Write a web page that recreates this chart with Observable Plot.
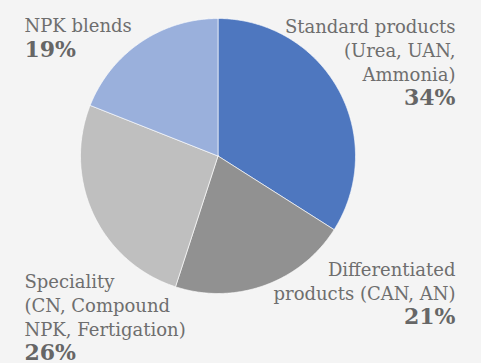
<!DOCTYPE html>
<html><head><meta charset="utf-8">
<script src="https://cdn.jsdelivr.net/npm/d3@7"></script>
<script src="https://cdn.jsdelivr.net/npm/@observablehq/plot@0.6"></script>
<style>
html,body{margin:0;padding:0;background:#f4f4f4;}
#chart svg{display:block;}
</style>
</head><body><div id="chart"></div>
<script>
// Data
const categories = ["Standard products", "Differentiated products", "Speciality", "NPK blends"];
const shares = [34, 21, 26, 19];
const nameLabels = [
  "Standard products\n(Urea, UAN,\nAmmonia)",
  "Differentiated\nproducts (CAN, AN)",
  "Speciality\n(CN, Compound\nNPK, Fertigation)",
  "NPK blends"
];
const sliceColors = ["#4e77bf", "#919191", "#bfbfbf", "#9ab0dc"];

// Layout (pixels)
const W = 481, H = 363, CX = 217.5, CY = 155.5, R = 137.5;
const anchors = ["top-right", "top-right", "top-left", "top-left"];
const nameDy = [15.2, 258.2, 270.2, 14.5];
const pctDy = [88.4, 307.4, 343.4, 40.4];

// Build slice polygons from shares (unit circle, clockwise from top)
const total = d3.sum(shares);
const pts = [];
let acc = 0;
categories.forEach((c, i) => {
  const a0 = acc / total * 2 * Math.PI;
  acc += shares[i];
  const a1 = acc / total * 2 * Math.PI;
  pts.push({slice: c, x: 0, y: 0});
  const n = Math.max(2, Math.ceil((a1 - a0) / (Math.PI / 360)));
  for (let k = 0; k <= n; k++) {
    const a = a0 + (a1 - a0) * k / n;
    pts.push({slice: c, x: Math.sin(a), y: Math.cos(a)});
  }
  pts.push({slice: c, x: 0, y: 0});
});

const textMarks = [];
categories.forEach((c, i) => {
  const right = anchors[i].endsWith("right");
  textMarks.push(Plot.text([nameLabels[i]], {
    text: d => d, frameAnchor: anchors[i], lineAnchor: "top",
    textAnchor: right ? "end" : "start",
    dx: right ? -26 : 24, dy: nameDy[i],
    fontSize: 18, lineHeight: 24 / 18, fill: "#6e6e6e",
    fontFamily: "DejaVu Serif"
  }));
  textMarks.push(Plot.text([shares[i]], {
    text: d => `${d}%`, frameAnchor: anchors[i], lineAnchor: "top",
    textAnchor: right ? "end" : "start",
    dx: right ? -26 : 24, dy: pctDy[i],
    fontSize: 22, fontWeight: "bold", fill: "#666666",
    fontFamily: "DejaVu Serif"
  }));
});

const chart = Plot.plot({
  width: W, height: H, margin: 0,
  style: {background: "#f4f4f4", fontFamily: "DejaVu Serif", overflow: "visible"},
  x: {domain: [-CX / R, (W - CX) / R], axis: null},
  y: {domain: [-(H - CY) / R, CY / R], axis: null},
  color: {domain: categories, range: sliceColors},
  marks: [
    Plot.line(pts, {x: "x", y: "y", z: "slice", fill: "slice", stroke: "#ffffff", strokeWidth: 0.8, strokeOpacity: 0.8, curve: "linear"}),
    ...textMarks
  ]
});
document.getElementById("chart").appendChild(chart);
</script>
</body></html>
